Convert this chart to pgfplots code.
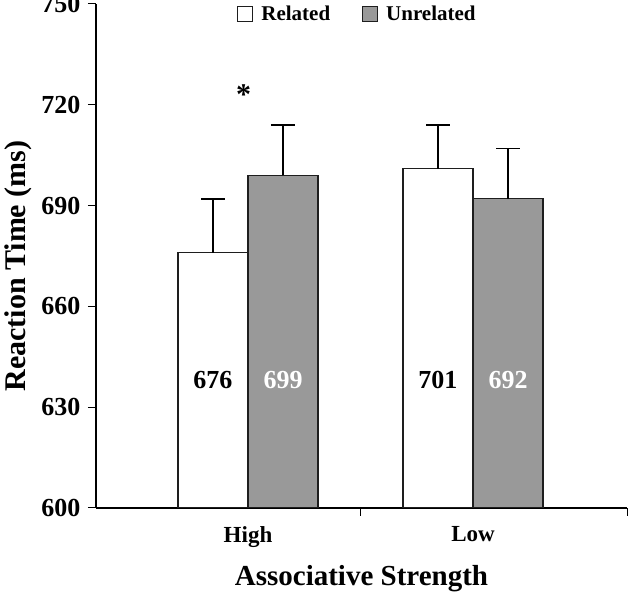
\documentclass[border=0pt]{standalone}
\usepackage{pgfplots}
\pgfplotsset{compat=1.18}
\usepackage{fontspec}
\setmainfont{Liberation Serif}
\definecolor{bargray}{RGB}{153,153,153}
\definecolor{edge}{RGB}{30,30,30}

\begin{document}
\begin{tikzpicture}
\begin{axis}[
    name=ax,
    width=531pt, height=504pt, scale only axis,
    xmin=-0.6756, xmax=1.6844,
    ymin=600, ymax=750,
    ytick={600,630,...,750},
    xtick={0.5,1.6844}, xticklabels={},
    extra x ticks={0,1}, extra x tick labels={High,Low},
    extra x tick style={major tick length=0pt,
        xticklabel style={yshift=-15pt, font=\fontsize{23}{23}\selectfont\bfseries}},
    axis lines*=left,
    axis line style={line width=1.2pt},
    tick style={line width=1pt, black},
    tick align=outside,
    major tick length=8pt,
    ybar=0pt, bar width=0.311,
    /pgf/number format/assume math mode=true,
    yticklabel style={font=\fontsize{26}{26}\selectfont\bfseries, xshift=-4pt},
    xlabel={Associative Strength},
    ylabel={Reaction Time (ms)},
    xlabel style={font=\fontsize{29}{29}\selectfont\bfseries,
        at={(axis description cs:0.5,-0.14)}, anchor=center},
    ylabel style={font=\fontsize{30}{30}\selectfont\bfseries,
        at={(axis description cs:-0.1465,0.48)}, anchor=center, rotate=0},
    legend style={draw=none, fill=none, at={(0.4925,0.98)}, anchor=center,
        legend columns=2, font=\fontsize{21}{21}\selectfont\bfseries,
        /tikz/every odd column/.append style={column sep=6pt},
        /tikz/every even column/.append style={column sep=30pt}},
    legend image code/.code={\draw[#1, line width=1pt] (0pt,-7pt) rectangle (15pt,8pt);},
    error bars/y dir=plus,
    error bars/y explicit,
    error bars/error bar style={line width=1.5pt, black},
    error bars/error mark options={rotate=90, mark size=12pt, line width=1.5pt, black},
]
\addplot[fill=white, draw=edge, line width=1.2pt]
    coordinates {(0,676) +- (0,16) (1,701) +- (0,13)};
\addlegendentry{Related}
\addplot[fill=bargray, draw=edge, line width=1.2pt]
    coordinates {(0,699) +- (0,15) (1,692) +- (0,15)};
\addlegendentry{Unrelated}

\node[font=\fontsize{26}{26}\selectfont\bfseries] at (axis cs:-0.156,638) {676};
\node[font=\fontsize{26}{26}\selectfont\bfseries, text=white] at (axis cs:0.156,638) {699};
\node[font=\fontsize{26}{26}\selectfont\bfseries] at (axis cs:0.844,638) {701};
\node[font=\fontsize{26}{26}\selectfont\bfseries, text=white] at (axis cs:1.156,638) {692};
\node[font=\fontsize{30}{30}\selectfont\bfseries] at (axis cs:-0.02,723) {*};
\end{axis}
\pgfresetboundingbox
\useasboundingbox ([shift={(-96pt,-88pt)}]ax.south west) rectangle ([shift={(533pt,508pt)}]ax.south west);
\end{tikzpicture}
\end{document}
